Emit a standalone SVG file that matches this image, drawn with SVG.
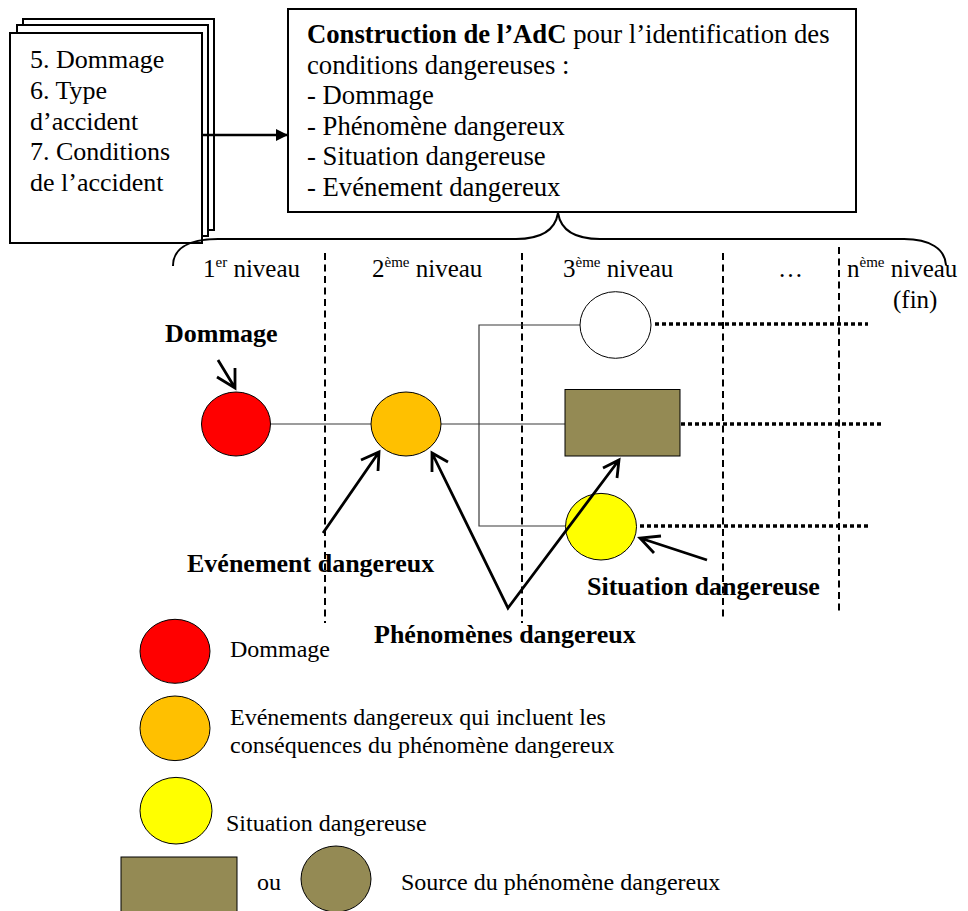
<svg xmlns="http://www.w3.org/2000/svg" width="968" height="911" viewBox="0 0 968 911">
  <style>
    .serif { font-family: "Liberation Serif", "Times New Roman", serif; fill: #000; }
    .t27 { font-size: 26.7px; }
    .t26 { font-size: 26px; }
    .t25 { font-size: 25px; }
    .t24 { font-size: 24px; }
    .b { font-weight: bold; }
    .box { fill: #fff; stroke: #000; stroke-width: 2; }
    .node { stroke: #000; stroke-width: 1; }
    .link { fill: none; stroke: #3a3a3a; stroke-width: 1.2; }
    .dots { fill: none; stroke: #000; stroke-width: 3.5; stroke-dasharray: 4 3; }
    .grid { fill: none; stroke: #000; stroke-width: 2; stroke-dasharray: 7 4.5; }
    .pointer { fill: none; stroke: #000; stroke-width: 2.8; stroke-linejoin: miter; stroke-linecap: butt; }
    .red { fill: #ff0000; }
    .orange { fill: #ffc000; }
    .yellow { fill: #ffff00; }
    .olive { fill: #948a54; }
    .white { fill: #fff; }
  </style>
  <defs>
    <marker id="solidHead" viewBox="0 0 12 12" refX="12" refY="6" markerWidth="12" markerHeight="12" markerUnits="userSpaceOnUse" orient="auto">
      <path d="M0,0 L12,6 L0,12 Z" fill="#000"/>
    </marker>
  </defs>

  <rect width="968" height="911" fill="#fff"/>

  <!-- stacked source documents -->
  <g id="documents">
    <rect class="box" x="23" y="19" width="191" height="211"/>
    <rect class="box" x="17" y="25" width="191" height="211"/>
    <rect class="box" x="10" y="33" width="192" height="210"/>
    <text class="serif t26" x="30" y="68">5. Dommage</text>
    <text class="serif t26" x="30" y="99">6. Type</text>
    <text class="serif t26" x="30" y="130">d’accident</text>
    <text class="serif t26" x="30" y="160">7. Conditions</text>
    <text class="serif t26" x="30" y="191">de l’accident</text>
  </g>

  <!-- tree construction box -->
  <g id="construction">
    <rect class="box" x="288" y="9" width="568" height="203"/>
    <text class="serif t27" x="307" y="43"><tspan class="b">Construction de l’AdC</tspan> pour l’identification des</text>
    <text class="serif t27" x="307" y="73.5">conditions dangereuses :</text>
    <text class="serif t27" x="307" y="104">- Dommage</text>
    <text class="serif t27" x="307" y="134.5">- Phénomène dangereux</text>
    <text class="serif t27" x="307" y="165">- Situation dangereuse</text>
    <text class="serif t27" x="307" y="195.5">- Evénement dangereux</text>
  </g>

  <!-- level headings -->
  <g id="levels">
    <path d="M173 266 C173 250 186 239 218 239 L516 239 C541 239 555 231 558 213 C561 231 575 239 600 239 L904 239 C930 239 945 249 946 265" fill="none" stroke="#000" stroke-width="2"/>
    <text class="serif t25" x="203" y="277">1<tspan font-size="15" dy="-10">er</tspan><tspan dy="10"> niveau</tspan></text>
    <text class="serif t25" x="372" y="277">2<tspan font-size="15" dy="-10">ème</tspan><tspan dy="10"> niveau</tspan></text>
    <text class="serif t25" x="563" y="277">3<tspan font-size="15" dy="-10">ème</tspan><tspan dy="10"> niveau</tspan></text>
    <text class="serif t25" x="778" y="277">…</text>
    <text class="serif t25" x="847" y="277">n<tspan font-size="15" dy="-10">ème</tspan><tspan dy="10"> niveau</tspan></text>
    <text class="serif t25" x="893" y="308">(fin)</text>
    <line class="grid" x1="325" y1="253" x2="325" y2="623"/>
    <line class="grid" x1="522" y1="253" x2="522" y2="623"/>
    <line class="grid" x1="723" y1="253" x2="723" y2="618"/>
    <line class="grid" x1="839" y1="247" x2="839" y2="615"/>
  </g>

  <!-- connectors -->
  <g id="connectors">
    <line x1="202" y1="135" x2="288" y2="135" stroke="#000" stroke-width="2.5" marker-end="url(#solidHead)"/>
    <line class="link" x1="270" y1="424" x2="371" y2="424"/>
    <line class="link" x1="441" y1="424" x2="565" y2="424"/>
    <path class="link" d="M580 325 H479 V526 H566"/>
    <line class="dots" x1="655" y1="324" x2="868" y2="324"/>
    <line class="dots" x1="681" y1="424" x2="884" y2="424"/>
    <line class="dots" x1="640" y1="526" x2="868" y2="526"/>
  </g>

  <!-- tree nodes -->
  <g id="node-dommage">
    <ellipse class="node red" cx="236" cy="424" rx="34.5" ry="32"/>
  </g>
  <g id="node-evenement">
    <ellipse class="node orange" cx="406" cy="424" rx="35" ry="32"/>
  </g>
  <g id="node-niveau3-haut">
    <ellipse class="node white" cx="615.5" cy="325" rx="35.5" ry="33.3"/>
  </g>
  <g id="node-source">
    <rect class="node olive" x="565" y="389.5" width="115" height="66.5" stroke-width="1.5"/>
  </g>
  <g id="node-situation">
    <ellipse class="node yellow" cx="601" cy="526.7" rx="35.5" ry="33.3"/>
  </g>

  <!-- callout pointers and labels -->
  <g id="callouts">
    <path class="pointer" d="M218 360 L235 388 M235 368 L235 388 L217 377"/>
    <path class="pointer" d="M323 533 L379 452 M361 460 L379 452 L378 471"/>
    <path class="pointer" d="M432 453 L508 608 L619 460 M448 462 L432 453 L432 472 M603 468 L619 460 L617 478"/>
    <path class="pointer" d="M707 560 L640 538 M661 536 L640 538 L654 553"/>
    <text class="serif t26 b" x="165" y="342">Dommage</text>
    <text class="serif t26 b" x="187" y="572">Evénement dangereux</text>
    <text class="serif t26 b" x="587" y="595">Situation dangereuse</text>
    <text class="serif t26 b" x="374" y="643">Phénomènes dangereux</text>
  </g>

  <!-- legend -->
  <g id="legend">
    <ellipse class="node red" cx="175" cy="651.3" rx="35" ry="32"/>
    <text class="serif t24" x="230" y="657">Dommage</text>
    <ellipse class="node orange" cx="175" cy="728.3" rx="35" ry="32.3"/>
    <text class="serif t24" x="230" y="725">Evénements dangereux qui incluent les</text>
    <text class="serif t24" x="230" y="753">conséquences du phénomène dangereux</text>
    <ellipse class="node yellow" cx="176" cy="810.7" rx="36" ry="33.3"/>
    <text class="serif t24" x="226" y="831">Situation dangereuse</text>
    <rect class="node olive" x="121" y="857" width="116" height="56" stroke-width="1.5"/>
    <text class="serif t24" x="257" y="890">ou</text>
    <ellipse class="node olive" cx="336" cy="879" rx="35" ry="33"/>
    <text class="serif t24" x="401" y="890">Source du phénomène dangereux</text>
  </g>
</svg>
